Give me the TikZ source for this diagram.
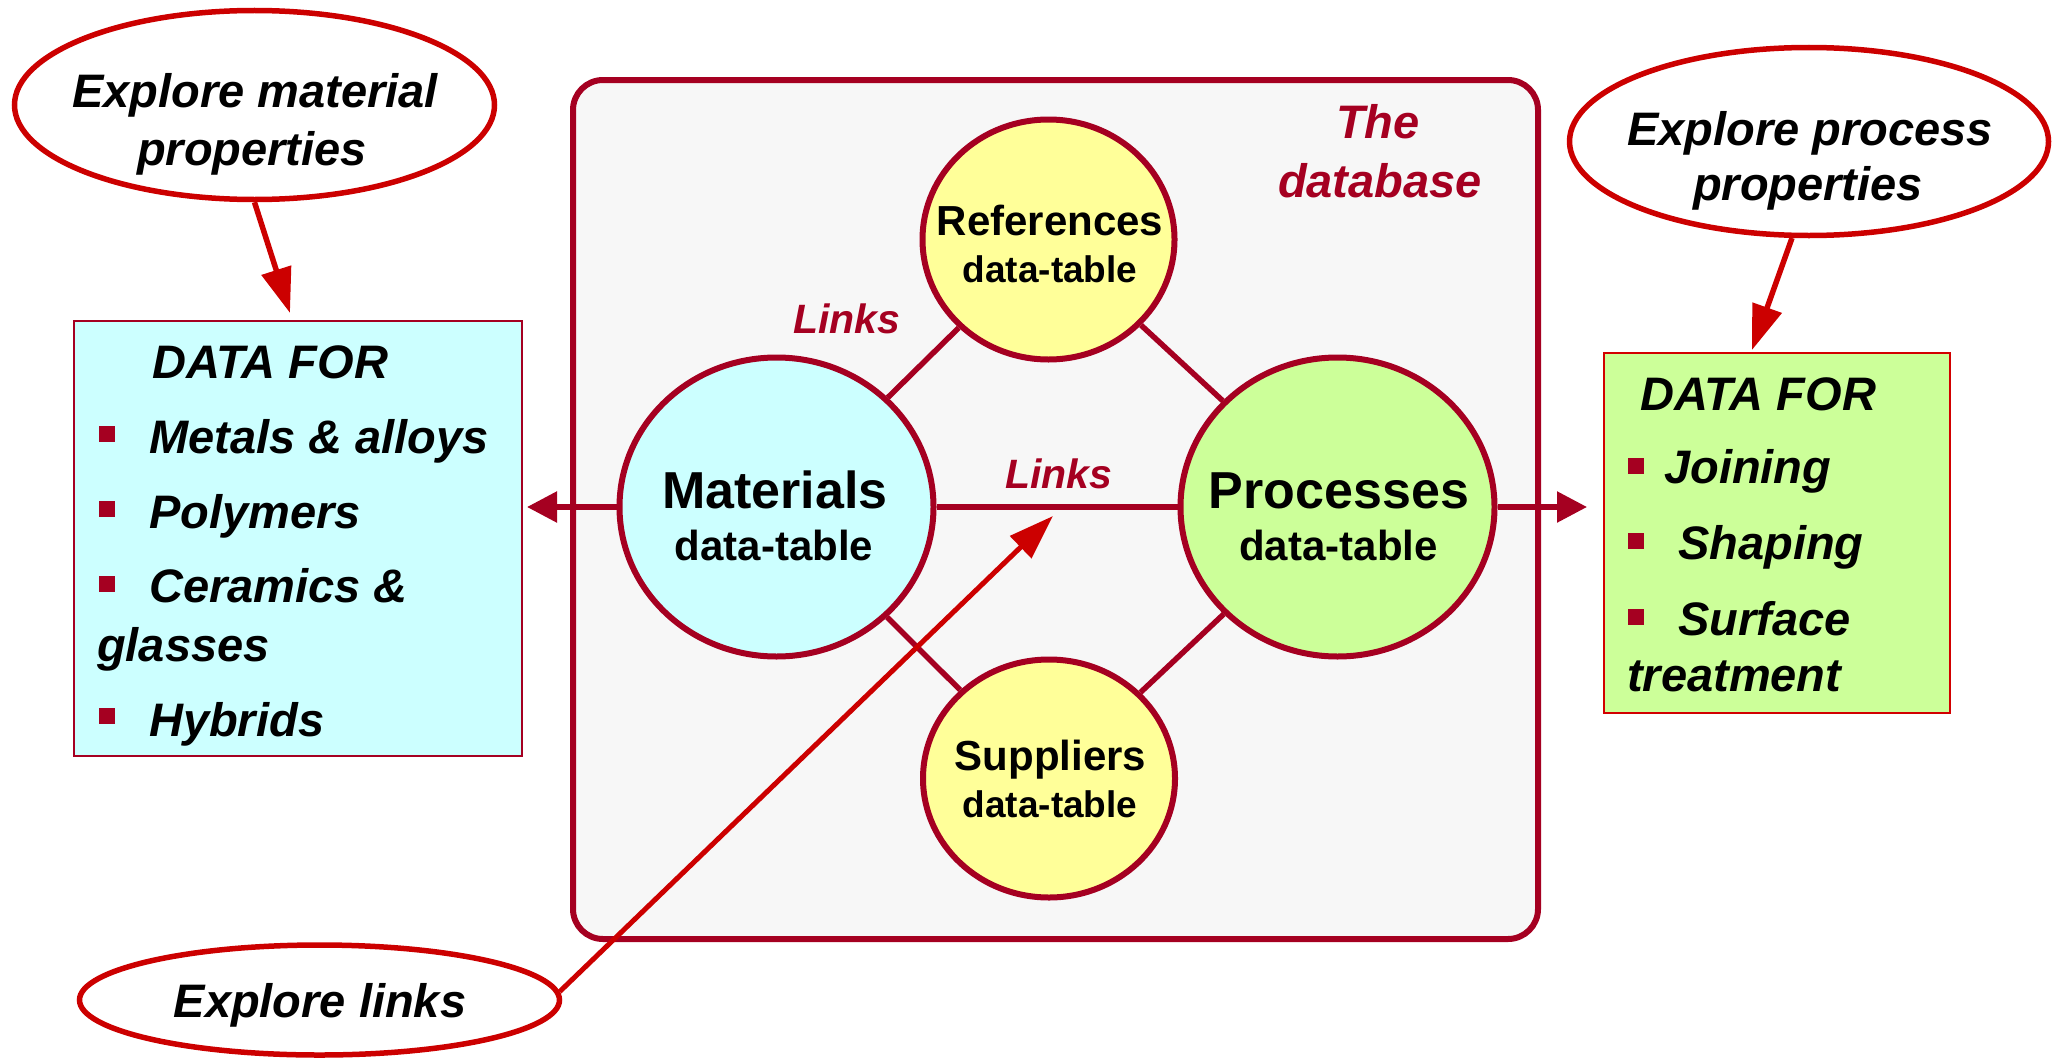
\documentclass[tikz,border=0pt]{standalone}
\usepackage{fontspec}
\setmainfont{Liberation Sans}
\usetikzlibrary{arrows.meta,shapes.geometric}
\definecolor{dbred}{RGB}{165,0,33}
\definecolor{brred}{RGB}{204,0,0}
\definecolor{boxred}{RGB}{210,0,0}
\definecolor{cyanfill}{RGB}{204,255,255}
\definecolor{yelfill}{RGB}{255,255,153}
\definecolor{grnfill}{RGB}{204,255,153}
\definecolor{dbfill}{RGB}{247,247,247}
\newcommand\myfs[1]{\fontsize{#1}{#1}\selectfont}
\begin{document}
\begin{tikzpicture}[x=1pt,y=-1pt,
  tablenode/.style={ellipse,draw=dbred,line width=6pt,inner sep=0pt},
  explore/.style={ellipse,draw=brred,line width=5.5pt,fill=white,inner sep=0pt},
  txt/.style={inner sep=0pt,anchor=base},
  txtl/.style={inner sep=0pt,anchor=base west},
  bigit/.style={font=\myfs{47}\bfseries\itshape},
  bul/.style={rectangle,fill=dbred,minimum size=16pt,inner sep=0pt},
  linkline/.style={draw=dbred,line width=5.5pt},
  dbarrow/.style={draw=dbred,line width=5.5pt,-{Triangle[length=30pt,width=30pt]}},
  exarrow/.style={draw=brred,line width=5.5pt,-{Triangle[length=45pt,width=30pt]}},
]
\useasboundingbox (0,0) rectangle (2063,1057);

% database frame
\node[draw=dbred,fill=dbfill,line width=6pt,rounded corners=30pt,
  minimum width=965pt,minimum height=859pt,inner sep=0pt] (db) at (1055.5,509.5) {};
\node[txt,bigit,text=dbred] (dbT1) at (1378,138) {The};
\node[txt,bigit,text=dbred] (dbT2) at (1380,197) {database};

% side boxes
\node[draw=dbred,fill=cyanfill,line width=2pt,minimum width=448pt,minimum height=435pt,inner sep=0pt]
  (leftbox) at (298,538.5) {};
\node[draw=boxred,fill=grnfill,line width=2pt,minimum width=346pt,minimum height=360pt,inner sep=0pt]
  (grnbox) at (1777,533) {};

% data tables
\node[tablenode,fill=yelfill,minimum width=252pt,minimum height=240pt] (ref) at (1048.5,239.5) {};
\node[tablenode,fill=cyanfill,minimum width=314pt,minimum height=299pt] (mat) at (776.5,507) {};
\node[tablenode,fill=grnfill,minimum width=314pt,minimum height=299pt] (proc) at (1337.5,507) {};
\node[tablenode,fill=yelfill,minimum width=252pt,minimum height=238pt] (sup) at (1049,778.5) {};

% links
\draw[linkline] (mat) -- (ref);
\draw[linkline] (ref) -- (proc);
\draw[linkline] (mat) -- (sup);
\draw[linkline] (sup) -- (proc);
\draw[linkline] (mat) -- (proc);

% arrows out of the database
\draw[dbarrow,shorten >=4pt] (mat.west) -- (mat.west -| leftbox.east);
\draw[dbarrow,shorten >=16pt] (proc.east) -- (proc.east -| grnbox.west);

% table texts
\node[txt,font=\myfs{42}\bfseries] (refT1) at (1050,235) {References};
\node[txt,font=\myfs{37}\bfseries] (refT2) at (1050,282) {data-table};
\node[txt,font=\myfs{52}\bfseries] (matT1) at (775,508) {Materials};
\node[txt,font=\myfs{42}\bfseries] (matT2) at (774,560) {data-table};
\node[txt,font=\myfs{52}\bfseries] (procT1) at (1339,508) {Processes};
\node[txt,font=\myfs{42}\bfseries] (procT2) at (1338.5,560) {data-table};
\node[txt,font=\myfs{42}\bfseries] (supT1) at (1050.5,770) {Suppliers};
\node[txt,font=\myfs{37}\bfseries] (supT2) at (1050,817) {data-table};

\node[txt,font=\myfs{41}\bfseries\itshape,text=dbred] (lk1) at (847,333) {Links};
\node[txt,font=\myfs{41}\bfseries\itshape,text=dbred] (lk2) at (1059,488) {Links};

% left box content
\node[txtl,bigit] (lA) at (152,378) {DATA FOR};
\node[bul] (lb1) at (107,434) {};
\node[txtl,bigit] (lM) at (149,453) {Metals \& alloys};
\node[bul] (lb2) at (107,509) {};
\node[txtl,bigit] (lP) at (149,528) {Polymers};
\node[bul] (lb3) at (107,584) {};
\node[txtl,bigit] (lC) at (149,602) {Ceramics \&};
\node[txtl,bigit] (lG) at (97,661) {glasses};
\node[bul] (lb4) at (107,716) {};
\node[txtl,bigit] (lH) at (149,736) {Hybrids};

% right box content
\node[txtl,bigit] (rA) at (1640,410) {DATA FOR};
\node[bul] (rb1) at (1636,466) {};
\node[txtl,bigit] (rJ) at (1664,483) {Joining};
\node[bul] (rb2) at (1636,541) {};
\node[txtl,bigit] (rS) at (1678,559) {Shaping};
\node[bul] (rb3) at (1636,617) {};
\node[txtl,bigit] (rSu) at (1678,635) {Surface};
\node[txtl,bigit] (rT) at (1627,691) {treatment};

% explore ellipses
\node[explore,minimum width=480pt,minimum height=189pt] (expmat) at (254.5,105) {};
\node[txt,bigit] (expmatT1) at (255,107) {Explore material};
\node[txt,bigit] (expmatT2) at (252,165) {properties};

\node[explore,minimum width=479pt,minimum height=188pt] (expproc) at (1809,141.5) {};
\node[txt,bigit] (expprocT1) at (1810,145) {Explore process};
\node[txt,bigit] (expprocT2) at (1808,200) {properties};

\node[explore,minimum width=480pt,minimum height=110pt] (explinks) at (319.5,1000) {};
\node[txt,bigit] (explinksT) at (320,1017) {Explore links};

% explore arrows
\coordinate (tipA) at (290,313);
\coordinate (tipB) at (1752,350);
\coordinate (tipC) at (1053,516);
\draw[exarrow] (expmat.south) -- (tipA);
\draw[exarrow] (expproc.260) -- (tipB);
\draw[exarrow,line width=5pt] (explinks.2) -- (tipC);
\end{tikzpicture}
\end{document}
